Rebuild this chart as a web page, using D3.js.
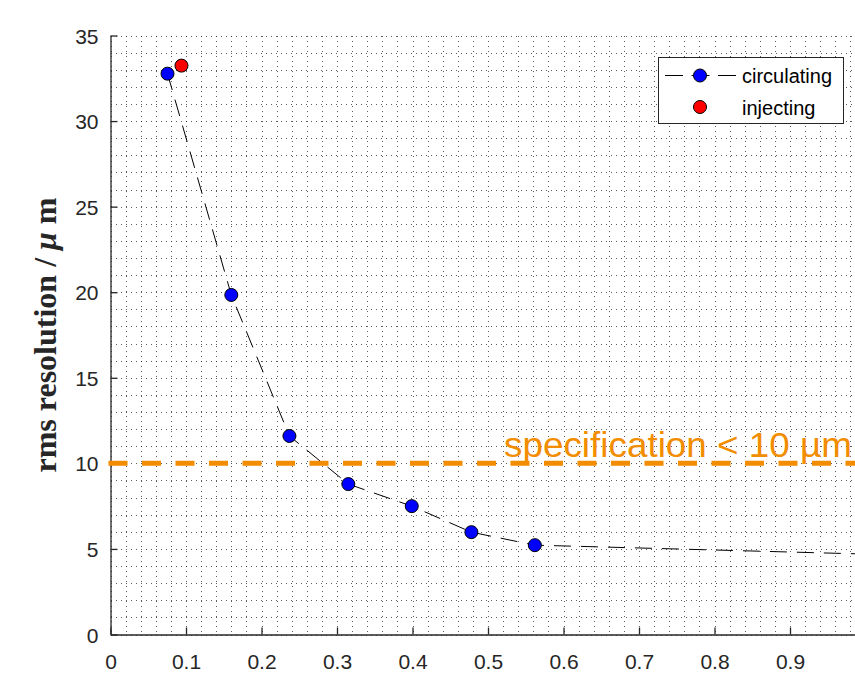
<!DOCTYPE html>
<html>
<head>
<meta charset="utf-8">
<script src="https://cdn.jsdelivr.net/npm/d3@7"></script>
<style>
  body { margin: 0; background: #fff; overflow: hidden; }
  svg { display: block; }
  .tick text { font-family: "Liberation Sans", Arial, sans-serif; fill: #262626; }
</style>
</head>
<body>
<div id="chart"></div>
<script>

// data
var circX = [0.0755, 0.160, 0.237, 0.315, 0.399, 0.478, 0.562];
var circY = [32.77, 19.84, 11.6, 8.79, 7.50, 5.98, 5.22];
// the dashed line keeps going past the last marker
var tailX = [1.0];
var tailY = [4.7];

var injX = [0.094];
var injY = [33.24];

var specValue = 10;
var specLabel = "specification < 10 \u00b5m";

var xTicks = [0, 0.1, 0.2, 0.3, 0.4, 0.5, 0.6, 0.7, 0.8, 0.9];
var yTicks = [0, 5, 10, 15, 20, 25, 30, 35];

var legendNames = ["circulating", "injecting"];

var W = 855, H = 676;
var axisColor = "#262626";

var svg = d3.select("#chart").append("svg")
	.attr("width", W)
	.attr("height", H);

svg.append("rect").attr("width", W).attr("height", H).attr("fill", "#fff");

// scales (x runs past the right edge of the window, like the reference)
var x = d3.scaleLinear().domain([0, 1]).range([110.5, 865.5]);
var y = d3.scaleLinear().domain([0, 35]).range([634.5, 35.5]);

/*
 *	GRID (dotted, minor spacing)
 */
var grid = svg.append("g").attr("class", "grid");
var gx = d3.range(0, 1.0001, 0.02);
var gy = d3.range(0, 35.001, 1);

grid.selectAll("line.gx")
	.data(gx).enter()
	.append("line")
		.attr("class", "gx")
		.attr("x1", function(d){ return Math.round(x(d)) + 0.5; })
		.attr("x2", function(d){ return Math.round(x(d)) + 0.5; })
		.attr("y1", y(35))
		.attr("y2", y(0));

grid.selectAll("line.gy")
	.data(gy).enter()
	.append("line")
		.attr("class", "gy")
		.attr("x1", x(0))
		.attr("x2", x(1))
		.attr("y1", function(d){ return Math.round(y(d)) + 0.5; })
		.attr("y2", function(d){ return Math.round(y(d)) + 0.5; });

grid.selectAll("line")
	.attr("stroke", "#1a1a1a")
	.attr("stroke-width", 1)
	.attr("stroke-dasharray", "1,4")
	.attr("shape-rendering", "crispEdges")
	.attr("opacity", 0.7);

/*
 *	AXES
 */
var xAxis = d3.axisBottom(x)
	.tickValues(xTicks)
	.tickFormat(function(d){ return d === 0 ? "0" : d3.format(".1f")(d); })
	.tickSizeInner(-7)
	.tickSizeOuter(0)
	.tickPadding(0);

var yAxis = d3.axisLeft(y)
	.tickValues(yTicks)
	.tickFormat(d3.format("d"))
	.tickSizeInner(-7)
	.tickSizeOuter(0)
	.tickPadding(0);

var gxAxis = svg.append("g")
	.attr("class", "x axis")
	.attr("transform", "translate(0," + y(0) + ")")
	.call(xAxis);

gxAxis.selectAll(".tick text")
	.attr("y", 34)
	.attr("dy", null)
	.style("font-size", "21px");

var gyAxis = svg.append("g")
	.attr("class", "y axis")
	.attr("transform", "translate(" + x(0) + ",0)")
	.call(yAxis);

gyAxis.selectAll(".tick text")
	.attr("x", -12)
	.attr("dy", "0.36em")
	.style("font-size", "21px");

svg.selectAll(".axis path, .axis line")
	.attr("stroke", axisColor)
	.attr("stroke-width", 1.3);

/*
 *	SPEC LINE
 */
svg.append("line")
	.attr("x1", x(0) - 2)
	.attr("x2", W)
	.attr("y1", y(specValue))
	.attr("y2", y(specValue))
	.attr("stroke", "#F28C00")
	.attr("stroke-width", 5)
	.attr("stroke-dasharray", "19,14.5");

svg.append("text")
	.attr("x", 504)
	.attr("y", 457)
	.attr("fill", "#F28C00")
	.attr("textLength", 348)
	.attr("lengthAdjust", "spacingAndGlyphs")
	.style("font-family", "Liberation Sans, Arial, sans-serif")
	.style("font-size", "35px")
	.text(specLabel);

/*
 *	DATA
 */
var lineData = circX.map(function(d, i){ return [d, circY[i]]; })
	.concat(tailX.map(function(d, i){ return [d, tailY[i]]; }));

var line = d3.line()
	.x(function(d){ return x(d[0]); })
	.y(function(d){ return y(d[1]); });

svg.append("path")
	.datum(lineData)
	.attr("d", line)
	.attr("fill", "none")
	.attr("stroke", "#000")
	.attr("stroke-width", 1)
	.attr("stroke-dasharray", "17,10");

svg.selectAll("circle.circ")
	.data(circX).enter()
	.append("circle")
		.attr("class", "circ")
		.attr("cx", function(d){ return x(d); })
		.attr("cy", function(d, i){ return y(circY[i]); })
		.attr("r", 6.5)
		.attr("fill", "#0000ff")
		.attr("stroke", "#000")
		.attr("stroke-width", 1);

svg.selectAll("circle.inj")
	.data(injX).enter()
	.append("circle")
		.attr("class", "inj")
		.attr("cx", function(d){ return x(d); })
		.attr("cy", function(d, i){ return y(injY[i]); })
		.attr("r", 6.5)
		.attr("fill", "#ff0000")
		.attr("stroke", "#000")
		.attr("stroke-width", 1);

/*
 *	Y LABEL
 */
var ylab = svg.append("text")
	.attr("transform", "translate(56,335) rotate(-90)")
	.attr("text-anchor", "middle")
	.attr("fill", "#262626")
	.style("font-family", "Liberation Serif, Times New Roman, serif")
	.style("font-weight", "bold")
	.style("font-size", "32px");
ylab.append("tspan").text("rms resolution / ");
ylab.append("tspan").style("font-style", "italic").text("\u03bc");
ylab.append("tspan").text(" m");

/*
 *	LEGEND
 */
var lg = svg.append("g").attr("class", "legend");
lg.append("rect")
	.attr("x", 658.5).attr("y", 57.5)
	.attr("width", 185).attr("height", 66)
	.attr("fill", "#fff")
	.attr("stroke", "#262626")
	.attr("stroke-width", 1);

lg.append("line")
	.attr("x1", 665).attr("x2", 736)
	.attr("y1", 75.5).attr("y2", 75.5)
	.attr("stroke", "#000")
	.attr("stroke-width", 1)
	.attr("stroke-dasharray", "18,8.5");

var legColors = ["#0000ff", "#ff0000"];
lg.selectAll("circle")
	.data(legendNames).enter()
	.append("circle")
		.attr("cx", 700)
		.attr("cy", function(d, i){ return 75.5 + i * 31.5; })
		.attr("r", 6.5)
		.attr("fill", function(d, i){ return legColors[i]; })
		.attr("stroke", "#000");

lg.selectAll("text")
	.data(legendNames).enter()
	.append("text")
		.attr("x", 742)
		.attr("y", function(d, i){ return 83 + i * 31.5; })
		.attr("fill", "#000")
		.style("font-family", "Liberation Sans, Arial, sans-serif")
		.style("font-size", "20px")
		.text(function(d){ return d; });

</script>
</body>
</html>
